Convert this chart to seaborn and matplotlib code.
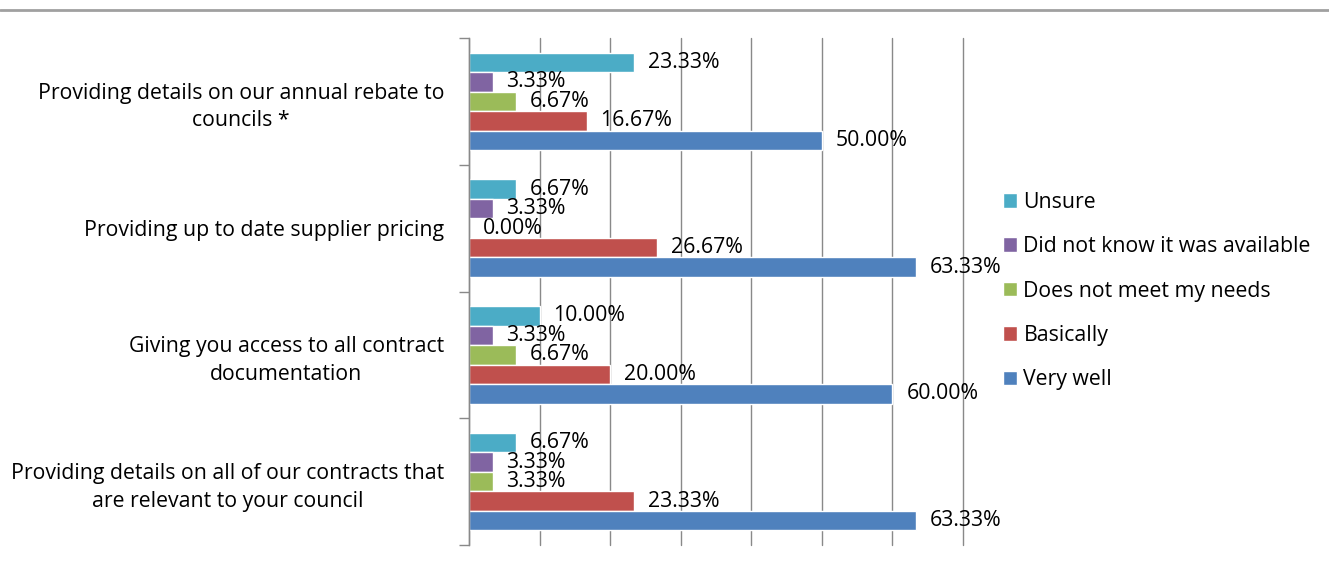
"""
Contract information survey - grouped horizontal bars
"""

import pandas as pd
import matplotlib.pyplot as plt
import seaborn as sns
from matplotlib.lines import Line2D

categories = [
    "Providing details on our annual rebate to\ncouncils *",
    "Providing up to date supplier pricing",
    "Giving you access to all contract\ndocumentation",
    "Providing details on all of our contracts that\nare relevant to your council",
]
series = ["Unsure", "Did not know it was available", "Does not meet my needs",
          "Basically", "Very well"]

unsure = [23.33, 6.67, 10.00, 6.67]
did_not_know = [3.33, 3.33, 3.33, 3.33]
not_meet = [6.67, 0.00, 6.67, 3.33]
basically = [16.67, 26.67, 20.00, 23.33]
very_well = [50.00, 63.33, 60.00, 63.33]

colors = ["#4BACC6", "#8064A2", "#9BBB59", "#C0504D", "#4F81BD"]
grid_col = "#898989"
fs = 15.3


def build_frame():
    rows = []
    for name, vals in zip(series, [unsure, did_not_know, not_meet,
                                   basically, very_well]):
        for cat, v in zip(categories, vals):
            rows.append({"category": cat, "series": name, "value": v})
    return pd.DataFrame(rows)


def main():
    df = build_frame()
    sns.set_style("white")
    plt.rcParams["font.family"] = ["Open Sans", "DejaVu Sans"]
    plt.rcParams["text.color"] = "black"
    plt.rcParams["ytick.labelcolor"] = "black"

    fig = plt.figure(figsize=(13.29, 5.65), dpi=100)
    ax = fig.add_axes([469 / 1329, 20 / 565, (963 - 469) / 1329, 507 / 565])

    sns.barplot(data=df, y="category", x="value", hue="series",
                order=categories, hue_order=series, palette=colors,
                orient="h", width=0.77, ax=ax, saturation=1, legend=True)

    for cont in ax.containers:
        labels = [f"{b.get_width():.2f}%" for b in cont]
        ax.bar_label(cont, labels=labels, padding=10, fontsize=fs,
                     color="black")

    ax.set_xlim(0, 70)
    ax.set_ylim(3.5, -0.5)
    ax.set_xticks(range(0, 71, 10))
    ax.set_xticklabels([])
    ax.xaxis.grid(True, color=grid_col, linewidth=1)
    for gl in ax.get_xgridlines():
        gl.set_clip_on(False)
    ax.set_axisbelow(True)
    ax.tick_params(axis="x", length=0)
    ax.set_xlabel("")
    ax.set_ylabel("")

    ax.set_yticks([-0.5, 0.5, 1.5, 2.5, 3.5], minor=True)
    ax.tick_params(axis="y", which="minor", length=7, color=grid_col,
                   width=1, left=True)
    ax.tick_params(axis="y", which="major", length=0, pad=18, labelsize=fs)
    for lab in ax.get_yticklabels():
        lab.set_multialignment("center")
        lab.set_linespacing(1.4)

    for side in ["top", "right", "bottom"]:
        ax.spines[side].set_visible(False)
    ax.spines["left"].set_color(grid_col)
    ax.spines["left"].set_linewidth(1)

    handles, labs = ax.get_legend_handles_labels()
    ax.legend(handles, labs, loc="center left",
              bbox_to_anchor=(992 / 1329, 1 - 291 / 565),
              bbox_transform=fig.transFigure, frameon=False, fontsize=fs,
              handlelength=0.68, handleheight=0.68, handletextpad=0.3,
              labelspacing=1.1, borderpad=0)

    fig.add_artist(Line2D([0, 1], [1 - 10 / 565, 1 - 10 / 565],
                          transform=fig.transFigure, color="#A0A0A0",
                          linewidth=2))

    fig.savefig("out.png", dpi=100)
    plt.close(fig)


if __name__ == "__main__":
    main()
